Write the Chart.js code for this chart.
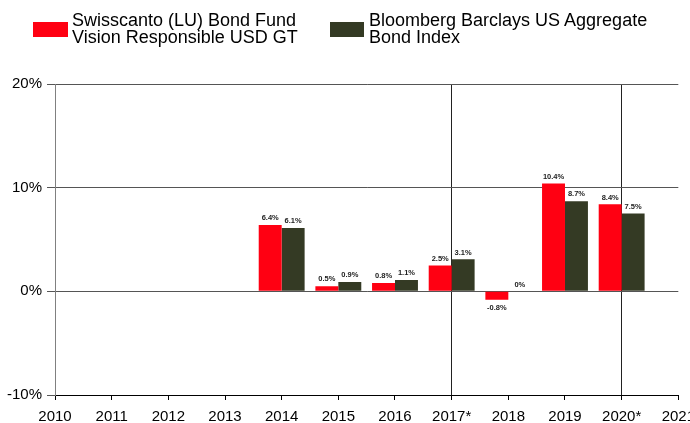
<!DOCTYPE html>
<html>
<head>
<meta charset="utf-8">
<script src="https://cdn.jsdelivr.net/npm/chart.js@4/dist/chart.umd.min.js"></script>
<style>
  html, body { margin: 0; padding: 0; background: #fff; overflow: hidden; }
  #wrap { position: relative; width: 690px; height: 423px; overflow: hidden; }
  #legend { position: absolute; top: 12px; left: 0; font-family: "Liberation Sans", Arial, sans-serif; font-size: 18px; line-height: 17px; color: #000; }
  .item { position: absolute; top: 0; white-space: nowrap; }
  .box { position: absolute; top: 10px; width: 35px; height: 15px; }
  .txt { position: absolute; top: 0; }
</style>
</head>
<body>
<div id="wrap">
  <canvas id="chart" width="703" height="434"></canvas>
  <div id="legend"></div>
</div>
<script>
// Datos del gráfico
const years = ['2010', '2011', '2012', '2013', '2014', '2015', '2016', '2017*', '2018', '2019', '2020*', '2021'];
const fondoValues = [null, null, null, null, 6.4, 0.5, 0.8, 2.5, -0.8, 10.4, 8.4, null];
const indiceValues = [null, null, null, null, 6.1, 0.9, 1.1, 3.1, 0, 8.7, 7.5, null];
const yTicks = [-10, 0, 10, 20];
const seriesNames = [
    ['Swisscanto (LU) Bond Fund', 'Vision Responsible USD GT'],
    ['Bloomberg Barclays US Aggregate', 'Bond Index']
];
const seriesColors = ['#ff0012', '#343a24'];
const markedYears = ['2017*', '2020*'];

// Leyenda en HTML (textos en dos líneas)
const legendEl = document.getElementById('legend');
const legendX = [33, 330];
seriesNames.forEach(function(lines, i) {
    const item = document.createElement('div');
    item.className = 'item';
    item.style.left = legendX[i] + 'px';
    item.innerHTML = '<div class="box" style="left:0;width:' + (i === 0 ? 35 : 34) + 'px;background:' + seriesColors[i] + '"></div>' +
        '<div class="txt" style="left:39px">' + lines.join('<br>') + '</div>';
    legendEl.appendChild(item);
});

// Etiquetas de valores sobre las barras
const valueLabels = {
    id: 'valueLabels',
    afterDatasetsDraw(chart) {
        const ctx = chart.ctx;
        ctx.save();
        ctx.font = 'bold 7.5px "Liberation Sans", Arial, sans-serif';
        ctx.fillStyle = '#222';
        ctx.textAlign = 'center';
        chart.data.datasets.forEach(function(ds, di) {
            const meta = chart.getDatasetMeta(di);
            meta.data.forEach(function(bar, i) {
                const v = ds.data[i];
                if (v === null || v === undefined) return;
                const txt = (v === 0 ? '0' : v.toFixed(1)) + '%';
                if (v < 0) {
                    ctx.textBaseline = 'top';
                    ctx.fillText(txt, bar.x, bar.y + 5);
                } else {
                    ctx.textBaseline = 'bottom';
                    ctx.fillText(txt, bar.x, bar.y - 3);
                }
            });
        });
        ctx.restore();
    }
};

const ctx = document.getElementById('chart').getContext('2d');
const chart = new Chart(ctx, {
    type: 'bar',
    data: {
        labels: years,
        datasets: [{
            label: seriesNames[0].join(' '),
            data: fondoValues,
            backgroundColor: seriesColors[0],
            categoryPercentage: 0.81,
            barPercentage: 1.0
        }, {
            label: seriesNames[1].join(' '),
            data: indiceValues,
            backgroundColor: seriesColors[1],
            categoryPercentage: 0.81,
            barPercentage: 1.0
        }]
    },
    options: {
        responsive: false,
        animation: false,
        layout: {
            padding: { left: 2, right: 0, top: 84, bottom: 0 }
        },
        scales: {
            x: {
                offset: false,
                grid: {
                    offset: false,
                    color: function(c) {
                        return markedYears.indexOf(years[c.index]) >= 0 ? '#222' : 'rgba(0,0,0,0)';
                    },
                    tickColor: '#000',
                    tickLength: 5,
                    lineWidth: 1
                },
                border: { color: '#000', width: 1 },
                ticks: {
                    color: '#000',
                    font: { family: '"Liberation Sans", Arial, sans-serif', size: 15 },
                    maxRotation: 0,
                    autoSkip: false,
                    padding: 8
                }
            },
            y: {
                min: -10,
                max: 20,
                afterBuildTicks: function(axis) {
                    axis.ticks = yTicks.map(function(v) { return { value: v }; });
                },
                grid: {
                    color: function(c) { return c.tick && c.tick.value === -10 ? '#000' : '#555'; },
                    tickColor: '#555',
                    tickLength: 8
                },
                border: { color: '#808080', width: 1 },
                ticks: {
                    color: '#000',
                    font: { family: '"Liberation Sans", Arial, sans-serif', size: 15 },
                    padding: 5,
                    callback: function(v) { return v + '%'; }
                }
            }
        },
        plugins: {
            legend: { display: false },
            tooltip: { enabled: false }
        }
    },
    plugins: [valueLabels]
});
</script>
</body>
</html>
